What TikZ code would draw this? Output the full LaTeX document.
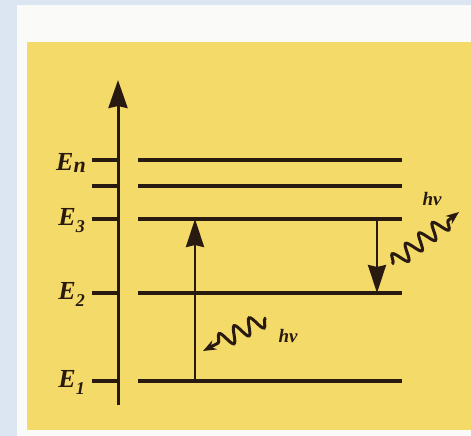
\documentclass[tikz,border=0pt]{standalone}
\usepackage{fontspec}
\setmainfont{Liberation Serif}
\usetikzlibrary{arrows.meta,decorations.pathmorphing}
\definecolor{bgblue}{RGB}{220,230,242}
\definecolor{paper}{RGB}{250,250,248}
\definecolor{yel}{RGB}{244,218,104}
\definecolor{ink}{RGB}{40,26,16}
\newcommand{\elev}[1]{\textit{E}\raisebox{-0.3em}{\fontsize{18}{18}\selectfont\itshape #1}}
\tikzset{
  lvl/.style={ink,line width=3.2pt},
  tick/.style={ink,line width=3.2pt},
  bigarrow/.style={ink,line width=2.8pt,-{Stealth[length=28pt,width=18pt,inset=2pt]}},
  photon/.style={ink,line width=3pt,decorate,
    decoration={snake,amplitude=8pt,segment length=17pt,pre length=1pt,post length=9pt},
    -{Stealth[length=13pt,width=10pt]}},
  elab/.style={ink,font=\fontsize{26}{30}\selectfont\bfseries,anchor=base east,inner sep=0pt},
  hlab/.style={ink,font=\fontsize{19}{22}\selectfont\bfseries\itshape,inner sep=0pt}
}
\begin{document}
\begin{tikzpicture}[x=1pt,y=-1pt]
\useasboundingbox (0,0) rectangle (471,436);
\fill[bgblue] (0,0) rectangle (471,436);
\fill[paper] (17,5) rectangle (471,436);
\fill[yel] (27,42) rectangle (471,430);
% axis
\coordinate (ax0) at (118,405);
\coordinate (ax1) at (118,80);
\draw[ink,line width=3pt,-{Stealth[length=28pt,width=19pt,inset=2pt]}] (ax0) -- (ax1);
% ticks and levels
\foreach \n/\y in {n/160,4/186,3/219,2/293,1/381}{
  \coordinate (t\n) at (92,\y);
  \coordinate (ta\n) at (118,\y);
  \coordinate (l\n) at (138,\y);
  \coordinate (r\n) at (402,\y);
  \draw[tick] (t\n) -- (ta\n);
  \draw[lvl] (l\n) -- (r\n);
}
\node[elab] (En) at (86,170) {\textit{E}\raisebox{-0.08em}{\fontsize{22}{22}\selectfont\itshape n}};
\node[elab] (E3) at (85,225) {\elev{3}};
\node[elab] (E2) at (85,299) {\elev{2}};
\node[elab] (E1) at (85,387) {\elev{1}};
% transitions
\coordinate (up0) at (195,381);
\coordinate (up1) at (195,219);
\draw[bigarrow] (up0) -- (up1);
\coordinate (dn0) at (377,219);
\coordinate (dn1) at (377,293);
\draw[bigarrow] (dn0) -- (dn1);
% photons
\coordinate (p1s) at (266,318);
\coordinate (p1e) at (203,351);
\draw[photon] (p1s) -- (p1e);
\node[hlab] (h1) at (288,336) {hν};
\coordinate (p2s) at (392,264);
\coordinate (p2e) at (459,212);
\draw[photon] (p2s) -- (p2e);
\node[hlab] (h2) at (432,199) {hν};
\end{tikzpicture}
\end{document}
